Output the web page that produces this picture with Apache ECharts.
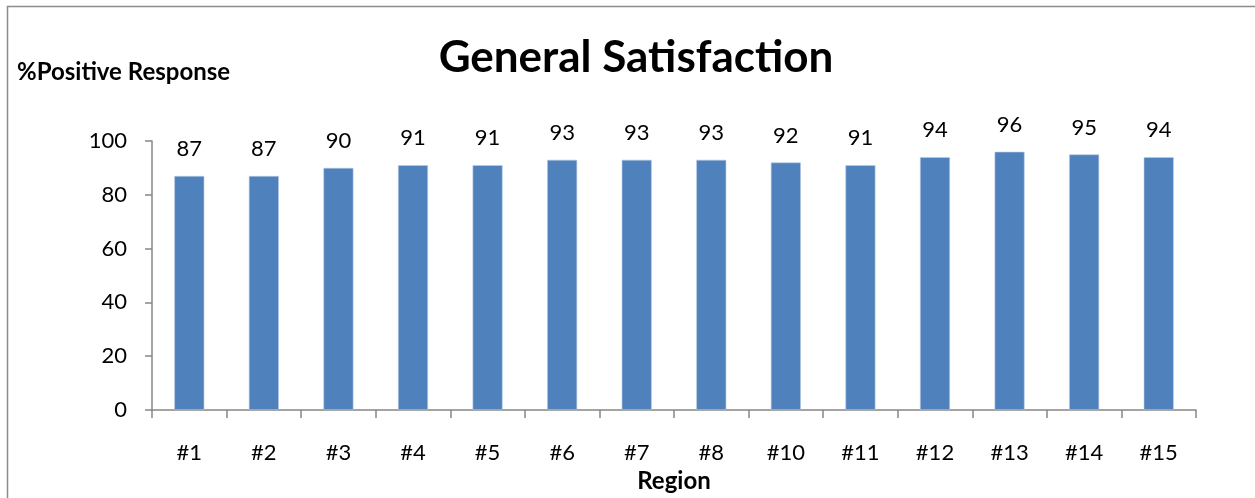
<!DOCTYPE html>
<html>
<head>
<meta charset="utf-8">
<script src="https://cdn.jsdelivr.net/npm/echarts@6/dist/echarts.min.js"></script>
<style>
  html, body { margin: 0; padding: 0; background: #fff; }
  #chart { width: 1255px; height: 498px; }
</style>
</head>
<body>
<div id="chart"></div>
<script>
// Regions (no #9 reported) and their share of positive responses
const regions = ['#1', '#2', '#3', '#4', '#5', '#6', '#7', '#8', '#10', '#11', '#12', '#13', '#14', '#15'];
const positive = [87, 87, 90, 91, 91, 93, 93, 93, 92, 91, 94, 96, 95, 94];
const yTicks = [0, 20, 40, 60, 80, 100];

const FONT = 'Lato, "Open Sans", sans-serif';
const chart = echarts.init(document.getElementById('chart'), null, { renderer: 'canvas' });

chart.setOption({
  backgroundColor: '#ffffff',
  animation: false,
  graphic: [{
    type: 'rect',
    shape: { x: 7.5, y: 6.5, width: 1400, height: 700 },
    style: { fill: 'none', stroke: '#8c8c8c', lineWidth: 1.5 },
    silent: true
  }],
  title: {
    text: 'General Satisfaction',
    left: 631, top: 31, textAlign: 'center',
    textStyle: { fontFamily: FONT, fontWeight: 'bold', fontSize: 44, color: '#000' }
  },
  grid: { left: 152, right: 59, top: 141, bottom: 88, containLabel: false, outerBoundsMode: 'none' },
  xAxis: {
    type: 'category',
    data: regions,
    name: 'Region',
    nameLocation: 'middle',
    nameGap: 58,
    nameTextStyle: { fontFamily: FONT, fontWeight: 'bold', fontSize: 24, color: '#000' },
    axisLine: { lineStyle: { color: '#868686', width: 1.5 } },
    axisTick: { show: true, length: 8, inside: false, alignWithLabel: false, lineStyle: { color: '#868686', width: 1.5 } },
    axisLabel: { margin: 32, fontFamily: FONT, fontSize: 22, color: '#000' }
  },
  yAxis: {
    type: 'value',
    min: yTicks[0], max: yTicks[yTicks.length - 1], interval: 20,
    name: '%Positive Response',
    nameLocation: 'end',
    nameGap: 57,
    nameTextStyle: { fontFamily: FONT, fontWeight: 'bold', fontSize: 24, color: '#000', align: 'left', padding: [0, 0, 0, -135] },
    axisLine: { show: true, lineStyle: { color: '#868686', width: 1.5 } },
    axisTick: { show: true, length: 7, lineStyle: { color: '#868686', width: 1.5 } },
    axisLabel: { margin: 25, fontFamily: FONT, fontSize: 22, color: '#000' },
    splitLine: { show: false }
  },
  series: [{
    type: 'bar',
    data: positive,
    barWidth: 30,
    itemStyle: { color: '#4f81bd', borderColor: '#b9cde5', borderWidth: 0.6 },
    label: {
      show: true, position: 'top', distance: 16,
      fontFamily: FONT, fontSize: 22, color: '#000'
    }
  }]
});
</script>
</body>
</html>
